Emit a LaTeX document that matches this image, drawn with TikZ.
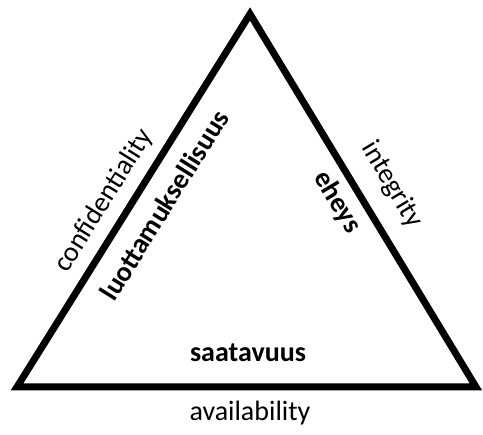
\documentclass[tikz,border=0pt]{standalone}
\usepackage{fontspec}
\setmainfont{Carlito}
\begin{document}
\begin{tikzpicture}[x=1pt,y=-1pt,
  lbl/.style={inner sep=0pt,font=\fontsize{28}{32}\selectfont},
  blbl/.style={inner sep=0pt,font=\fontsize{28}{32}\selectfont\bfseries}]
\useasboundingbox (0,0) rectangle (483,435);
\coordinate (A) at (250,14);
\coordinate (L) at (17,387);
\coordinate (R) at (476,387);
\draw[line width=7pt,line join=miter] (A) -- (L) -- (R) -- cycle;
\node[lbl,rotate=58] (conf) at (104,201) {confidentiality};
\node[blbl,rotate=58] (luot) at (164,205) {luottamuksellisuus};
\node[lbl,rotate=-59] (integ) at (392,185) {integrity};
\node[blbl,rotate=-59] (eheys) at (337,202) {eheys};
\node[blbl] (saat) at (248,353) {saatavuus};
\node[lbl] (avail) at (250,413) {availability};
\end{tikzpicture}
\end{document}
